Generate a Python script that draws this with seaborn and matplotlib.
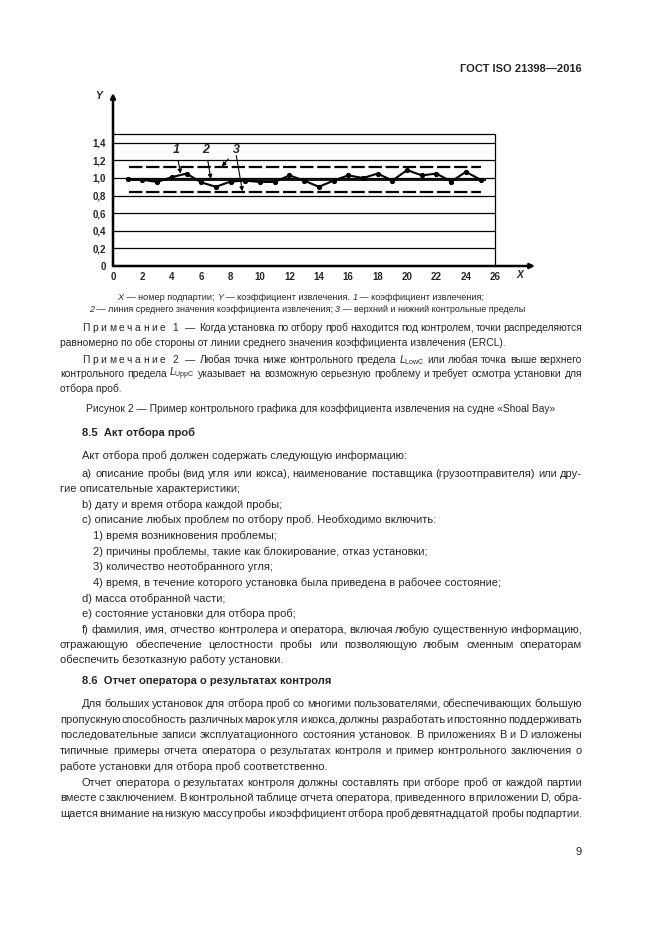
import numpy as np
import matplotlib
matplotlib.use('Agg')
import matplotlib.pyplot as plt
import seaborn as sns

# --- chart data ---
subbatch = [1, 2, 3, 4, 5, 6, 7, 8, 9, 10, 11, 12, 13, 14, 15, 16, 17, 18, 19, 20, 21, 22, 23, 24, 25]
recovery = [0.985, 0.98, 0.955, 1.01, 1.05, 0.95, 0.90, 0.96, 0.97, 0.955, 0.955, 1.03, 0.97, 0.90,
            0.97, 1.03, 1.00, 1.05, 0.97, 1.09, 1.03, 1.05, 0.96, 1.07, 0.98]
ercl = 0.98
upper_limit = 1.12
lower_limit = 0.84
x_ticks = [0, 2, 4, 6, 8, 10, 12, 14, 16, 18, 20, 22, 24, 26]
y_ticks = [0, 0.2, 0.4, 0.6, 0.8, 1.0, 1.2, 1.4]
y_tick_labels = ['0', '0,2', '0,4', '0,6', '0,8', '1,0', '1,2', '1,4']

sns.set_style('white')
plt.rcParams['font.family'] = ['Liberation Sans', 'DejaVu Sans']
plt.rcParams['mathtext.fontset'] = 'custom'
plt.rcParams['mathtext.rm'] = 'Liberation Sans'
plt.rcParams['mathtext.it'] = 'Liberation Sans:italic'

W, H = 661, 935
fig = plt.figure(figsize=(W / 100, H / 100), dpi=100)
fig.patch.set_facecolor('white')
R = fig.canvas.get_renderer()

# ---------------- chart ----------------
ax = fig.add_axes([113 / W, 1 - 266 / H, (535 - 113) / W, (266 - 93) / H])
ax.set_xlim(0, 28.7)
ax.set_ylim(0, 173 / 88)
for s in ax.spines.values():
    s.set_visible(False)
ax.set_facecolor('none')

ax.hlines(y_ticks[1:], 0, 26, color='black', lw=0.9)
ax.hlines(1.5, 0, 26, color='black', lw=0.9)
ax.vlines(26, 0, 1.5, color='black', lw=0.9)

ax.annotate('', xy=(0, 173 / 88), xytext=(0, 0),
            arrowprops=dict(arrowstyle='-|>', lw=1.8, color='black', mutation_scale=7,
                            shrinkA=0, shrinkB=0), annotation_clip=False)
ax.annotate('', xy=(28.7, 0), xytext=(0, 0),
            arrowprops=dict(arrowstyle='-|>', lw=1.8, color='black', mutation_scale=7,
                            shrinkA=0, shrinkB=0), annotation_clip=False)

ax.hlines([upper_limit, lower_limit], 1.1, 25.0, color='black', lw=1.6, linestyles=[(0, (6, 1.7))])
ax.hlines(ercl, 1.0, 25.4, color='black', lw=1.3)
sns.lineplot(x=subbatch, y=recovery, ax=ax, color='black', lw=1.5, marker='o',
             markersize=3, markeredgecolor='black')

ax.set_xticks(x_ticks)
ax.set_xticklabels([str(v) for v in x_ticks], fontweight='bold', fontsize=7)
ax.set_yticks(y_ticks)
ax.set_yticklabels(y_tick_labels, fontweight='bold', fontsize=7)
ax.tick_params(axis='x', direction='in', length=3, width=0.8, pad=4, color='black')
ax.tick_params(axis='y', length=0, pad=5)
ax.text(27.7, -0.105, 'X', ha='center', va='center', fontsize=7.5, fontstyle='italic', fontweight='bold')
ax.text(-0.95, 1.93, 'Y', ha='center', va='center', fontsize=7.5, fontstyle='italic', fontweight='bold')

lead = dict(arrowstyle='-|>', lw=0.8, color='black', mutation_scale=6, shrinkA=1, shrinkB=0)
lab = dict(fontsize=9, fontstyle='italic', fontweight='bold', ha='center', va='center')
ax.annotate('1', xy=(4.6, 1.05), xytext=(4.29, 1.32), arrowprops=lead, **lab)
ax.annotate('2', xy=(6.65, 0.99), xytext=(6.33, 1.32), arrowprops=lead, **lab)
ax.annotate('3', xy=(7.4, 1.13), xytext=(8.37, 1.32), arrowprops=lead, **lab)
ax.annotate('', xy=(8.8, 0.85), xytext=(8.37, 1.27), arrowprops=lead)


# ---------------- page text ----------------
def ink(s, size, **opts):
    t = fig.text(0, 0, s, fontsize=size, **opts)
    w = t.get_window_extent(R).width
    t.remove()
    return w


def advance(s, size, **opts):
    # ink width of "HsH" minus "HH" gives the advance width of s
    return ink('H' + s + 'H', size, **opts) - ink('HH', size, **opts)


def draw_line(y, x0, pieces, x1=None, size=8.0, gap=None, **common):
    if isinstance(pieces, str):
        pieces = [(pieces, {})]
    if x1 is None and gap is None:
        # plain line: one string per piece
        x = x0
        for text, kw in pieces:
            opts = dict(common)
            opts.update(kw)
            fig.text(x / W, 1 - y / H, text, fontsize=size, va='center', ha='left', **opts)
            x += advance(text, size, **opts)
        return x
    words = []
    new = True
    for text, kw in pieces:
        parts = text.split(' ')
        for i, p in enumerate(parts):
            if i > 0:
                new = True
            if p == '':
                continue
            if new:
                words.append([])
                new = False
            words[-1].append((p, kw))
    widths = []
    for w in words:
        tw = 0
        for p, kw in w:
            opts = dict(common)
            opts.update(kw)
            tw += advance(p, size, **opts)
        widths.append(tw)
    if gap is None:
        gap = (x1 - x0 - sum(widths)) / max(len(words) - 1, 1)
    x = x0
    for w, tw in zip(words, widths):
        xx = x
        for p, kw in w:
            opts = dict(common)
            opts.update(kw)
            fig.text(xx / W, 1 - y / H, p, fontsize=size, va='center', ha='left', **opts)
            xx += advance(p, size, **opts)
        x += tw + gap
    return x - gap


def center_line(y, xc, pieces, size=8.0, **common):
    if isinstance(pieces, str):
        pieces = [(pieces, {})]
    tot = sum(advance(t, size, **dict(common, **kw)) for t, kw in pieces)
    draw_line(y, xc - tot / 2, pieces, size=size, **common)


def note_line(y, num, rest, size):
    end = draw_line(y, 82, ' '.join('Примечание'), size=size, gap=2.6)
    end = draw_line(y, end + 7, num, size=size)
    end = draw_line(y, end + 7, '—', size=size)
    draw_line(y, end + 4, rest, x1=582, size=size)


IT = {'fontstyle': 'italic'}
RM = {}
L_LOW = r'$L_{\mathrm{LowC}}$'
L_UPP = r'$L_{\mathrm{UppC}}$'

fig.text(582 / W, 1 - 69 / H, 'ГОСТ ISO 21398—2016', ha='right', va='center', fontsize=8, fontweight='bold')

center_line(298, 301, [('X', IT), (' — номер подпартии; ', RM), ('Y', IT), (' — коэффициент извлечения. ', RM),
                       ('1', IT), (' — коэффициент извлечения;', RM)], size=6.6)
center_line(309, 307, [('2', IT), (' — линия среднего значения коэффициента извлечения; ', RM), ('3', IT),
                       (' — верхний и нижний контрольные пределы', RM)], size=6.5)

NS = 7.4
note_line(328, '1', 'Когда установка по отбору проб находится под контролем, точки распределяются', NS)
draw_line(343, 60, 'равномерно по обе стороны от линии среднего значения коэффициента извлечения (ERCL).', size=NS)
note_line(360, '2', 'Любая точка ниже контрольного предела ' + L_LOW + ' или любая точка выше верхнего', NS)
draw_line(374, 60, 'контрольного предела ' + L_UPP
          + ' указывает на возможную серьезную проблему и требует осмотра установки для', x1=582, size=NS)
draw_line(389, 60, 'отбора проб.', size=NS)

center_line(409, 321, 'Рисунок 2 — Пример контрольного графика для коэффициента извлечения на судне «Shoal Bay»',
            size=NS)

BS = 8.0
draw_line(433, 82, '8.5  Акт отбора проб', size=BS, fontweight='bold')
body = [
    (456, 82, 'Акт отбора проб должен содержать следующую информацию:', None),
    (474, 82, 'а) описание пробы (вид угля или кокса), наименование поставщика (грузоотправителя) или дру-', 582),
    (489, 60, 'гие описательные характеристики;', None),
    (505, 82, 'b) дату и время отбора каждой пробы;', None),
    (520, 82, 'c) описание любых проблем по отбору проб. Необходимо включить:', None),
    (536, 93, '1) время возникновения проблемы;', None),
    (552, 93, '2) причины проблемы, такие как блокирование, отказ установки;', None),
    (567, 93, '3) количество неотобранного угля;', None),
    (583, 93, '4) время, в течение которого установка была приведена в рабочее состояние;', None),
    (599, 82, 'd) масса отобранной части;', None),
    (614, 82, 'e) состояние установки для отбора проб;', None),
    (630, 82, 'f) фамилия, имя, отчество контролера и оператора, включая любую существенную информацию,', 582),
    (645, 60, 'отражающую обеспечение целостности пробы или позволяющую любым сменным операторам', 582),
    (660, 60, 'обеспечить безотказную работу установки.', None),
    (704, 82, 'Для больших установок для отбора проб со многими пользователями, обеспечивающих большую', 582),
    (720, 60, 'пропускную способность различных марок угля и кокса, должны разработать и постоянно поддерживать', 582),
    (735, 60, 'последовательные записи эксплуатационного состояния установок. В приложениях В и D изложены', 582),
    (751, 60, 'типичные примеры отчета оператора о результатах контроля и пример контрольного заключения о', 582),
    (767, 60, 'работе установки для отбора проб соответственно.', None),
    (783, 82, 'Отчет оператора о результатах контроля должны составлять при отборе проб от каждой партии', 582),
    (798, 60, 'вместе с заключением. В контрольной таблице отчета оператора, приведенного в приложении D, обра-', 582),
    (814, 60, 'щается внимание на низкую массу пробы и коэффициент отбора проб девятнадцатой пробы подпартии.', 582),
]
for y, x0, s, x1 in body:
    draw_line(y, x0, s, x1=x1, size=BS)
draw_line(681, 82, '8.6  Отчет оператора о результатах контроля', size=BS, fontweight='bold')

fig.text(582 / W, 1 - 852 / H, '9', ha='right', va='center', fontsize=8)

fig.savefig('out.png', dpi=100, facecolor='white')
